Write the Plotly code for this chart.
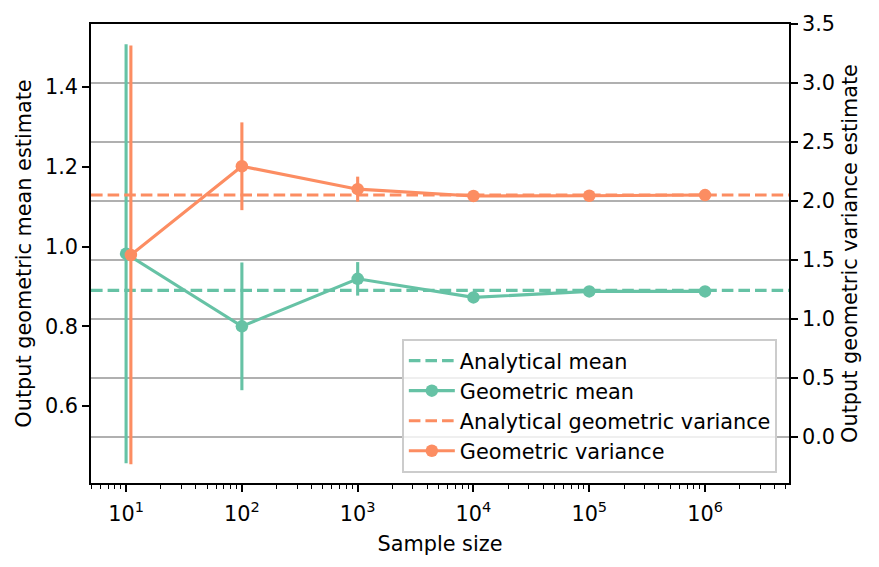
import plotly.graph_objects as go

# ---------------- data ----------------
sample_sizes_mean = [10, 100, 1000, 10000, 100000, 1000000]
geometric_mean = [0.982, 0.800, 0.919, 0.8725, 0.8875, 0.8875]
geometric_mean_err = [0.525, 0.16, 0.042, 0.006, 0.003, 0.001]

sample_sizes_var = [11, 100, 1000, 10000, 100000, 1000000]
geometric_var = [1.542, 2.294, 2.10, 2.042, 2.044, 2.05]
geometric_var_err = [1.775, 0.372, 0.106, 0.02, 0.008, 0.003]

analytical_mean = 0.89
analytical_var = 2.05

x_tick_vals = [10, 100, 1000, 10000, 100000, 1000000]
x_tick_text = ["10<sup>1</sup>", "10<sup>2</sup>", "10<sup>3</sup>",
               "10<sup>4</sup>", "10<sup>5</sup>", "10<sup>6</sup>"]
left_ticks = [0.6, 0.8, 1.0, 1.2, 1.4]
right_ticks = [0.0, 0.5, 1.0, 1.5, 2.0, 2.5, 3.0, 3.5]

# ---------------- styles ----------------
GREEN = "#66c2a5"
ORANGE = "#fc8d62"
FONT = "DejaVu Sans"
FS = 20.8
X_LOG_RANGE = [0.697, 6.725]
Y_LEFT_RANGE = [0.4075, 1.5575]
Y_RIGHT_RANGE = [-0.391, 3.5]

x_ends = [10 ** X_LOG_RANGE[0], 10 ** X_LOG_RANGE[1]]
minor_vals = [m * 10 ** k for k in range(0, 7) for m in range(2, 10)]

fig = go.Figure()

fig.add_trace(go.Scatter(
    x=x_ends, y=[analytical_mean, analytical_mean], mode="lines",
    line=dict(color=GREEN, width=3.1, dash="11.6px,5px"),
    name="Analytical mean", yaxis="y", cliponaxis=True))

fig.add_trace(go.Scatter(
    x=sample_sizes_mean, y=geometric_mean, mode="lines+markers",
    line=dict(color=GREEN, width=3.1),
    marker=dict(color=GREEN, size=12.5),
    error_y=dict(type="data", array=geometric_mean_err, color=GREEN,
                 thickness=3.1, width=0),
    name="Geometric mean", yaxis="y"))

fig.add_trace(go.Scatter(
    x=x_ends, y=[analytical_var, analytical_var], mode="lines",
    line=dict(color=ORANGE, width=3.1, dash="11.6px,5px"),
    name="Analytical geometric variance", yaxis="y2"))

fig.add_trace(go.Scatter(
    x=sample_sizes_var, y=geometric_var, mode="lines+markers",
    line=dict(color=ORANGE, width=3.1),
    marker=dict(color=ORANGE, size=12.5),
    error_y=dict(type="data", array=geometric_var_err, color=ORANGE,
                 thickness=3.1, width=0),
    name="Geometric variance", yaxis="y2"))

axis_common = dict(showline=True, linecolor="black", linewidth=1.7,
                   ticks="outside", ticklen=7, tickwidth=1.7, tickcolor="black",
                   tickfont=dict(family=FONT, size=FS, color="black"),
                   zeroline=False)

fig.update_layout(
    width=879, height=567,
    margin=dict(l=91, r=90, t=22, b=84),
    paper_bgcolor="white", plot_bgcolor="white",
    font=dict(family=FONT, size=FS, color="black"),
    xaxis=dict(type="log", range=X_LOG_RANGE, mirror=True, showgrid=False,
               tickmode="array", tickvals=x_tick_vals, ticktext=x_tick_text,
               ticklabelstandoff=4,
               minor=dict(ticks="outside", ticklen=4.2, tickwidth=1.2,
                          tickcolor="black", tickmode="array",
                          tickvals=minor_vals, showgrid=False),
               title=dict(text="Sample size", font=dict(family=FONT, size=FS),
                          standoff=12),
               **axis_common),
    yaxis=dict(range=Y_LEFT_RANGE, showgrid=False, tickmode="array",
               tickvals=left_ticks, tickformat=".1f",
               title=dict(text="Output geometric mean estimate",
                          font=dict(family=FONT, size=FS), standoff=8),
               **axis_common),
    yaxis2=dict(range=Y_RIGHT_RANGE, overlaying="y", side="right",
                showgrid=True, gridcolor="#b0b0b0", gridwidth=1.7,
                tickmode="array", tickvals=right_ticks, tickformat=".1f",
                title=dict(text="Output geometric variance estimate",
                           font=dict(family=FONT, size=FS), standoff=8),
                **axis_common),
    legend=dict(x=0.983, y=0.022, xanchor="right", yanchor="bottom",
                bgcolor="rgba(255,255,255,0.8)", bordercolor="#cccccc",
                borderwidth=1.7, font=dict(family=FONT, size=FS),
                itemwidth=46, tracegroupgap=0),
    showlegend=True,
)

fig.write_html("out.html")
